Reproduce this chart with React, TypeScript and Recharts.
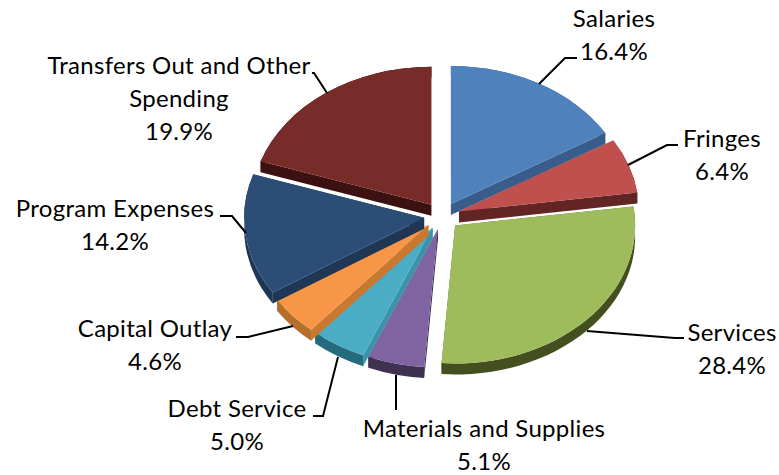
import React from "react";
import { PieChart, Pie } from "recharts";

const categories = ["Salaries", "Fringes", "Services", "Materials and Supplies", "Debt Service", "Capital Outlay", "Program Expenses", "Transfers Out and Other Spending"];
const shares = [16.4, 6.4, 28.4, 5.1, 5.0, 4.6, 14.2, 19.9];
const topColors = ["#4F81BD", "#C0504D", "#9EBC5C", "#8064A2", "#4BACC6", "#F79646", "#2C4D75", "#772C2A"];
const faceColors = ["#385D8A", "#632523", "#4F6228", "#3F3151", "#3A93AB", "#C9792F", "#1F3654", "#3B1211"];
const rimColors = ["#385D8A", "#632523", "#444F20", "#3F3151", "#256A7D", "#B66E2C", "#1F3654", "#3B1211"];

const WIDTH = 779;
const HEIGHT = 475;
const CX = 442;
const CY = 216;
const RX = 180;
const TILT = 0.767;
const DEPTH = 11;
const EXPLODE = 18;
const FONT_SIZE = 24;
const LETTER_SPACING = 0.3;
const LINE_HEIGHT = 33;

// text centre x, first line centre y, leader polyline
const labelLayout = [
  { x: 614, y: 17, leader: "539,84 565,58 577,58" },
  { x: 722, y: 137, leader: "628,165 667,145 678,145" },
  { x: 732, y: 331, leader: "587,331 675,338 684,338" },
  { x: 484, y: 427, leader: "396,375 396,410" },
  { x: 237, y: 407, leader: "338,357 323,416 313,416" },
  { x: 155, y: 327, leader: "293,326 248,337 236,337" },
  { x: 115, y: 207, leader: "246,233 232,216 220,216" },
  { x: 179, y: 64, leader: "327,93 314,73 312,73" },
];

const chartData = categories.map((name, i) => ({ name, value: shares[i], index: i }));

function wrap(name: string): string[] {
  const lines: string[] = [];
  let cur = "";
  for (const w of name.split(" ")) {
    if ((cur + " " + w).trim().length > 23) {
      lines.push(cur);
      cur = w;
    } else cur = (cur + " " + w).trim();
  }
  lines.push(cur);
  return lines;
}

const rad = (d: number) => (d * Math.PI) / 180;

function Slice3D(props: any) {
  const { cx, cy, outerRadius, startAngle, endAngle, index } = props;
  const a1 = 90 - startAngle;
  const a2 = 90 - endAngle;
  const rx = outerRadius;
  const ry = outerRadius * TILT;
  const mid = rad((a1 + a2) / 2);
  const ax = cx + EXPLODE * Math.sin(mid);
  const ay = cy - EXPLODE * TILT * Math.cos(mid);
  const x1 = ax + rx * Math.sin(rad(a1));
  const y1 = ay - ry * Math.cos(rad(a1));
  const x2 = ax + rx * Math.sin(rad(a2));
  const y2 = ay - ry * Math.cos(rad(a2));
  const large = a2 - a1 > 180 ? 1 : 0;
  const top = `M${ax},${ay} L${x1},${y1} A${rx},${ry} 0 ${large} 1 ${x2},${y2} Z`;
  const rim = `M${x1},${y1} A${rx},${ry} 0 ${large} 1 ${x2},${y2} L${x2},${y2 + DEPTH} A${rx},${ry} 0 ${large} 0 ${x1},${y1 + DEPTH} Z`;
  const face1 = `M${ax},${ay} L${x1},${y1} L${x1},${y1 + DEPTH} L${ax},${ay + DEPTH} Z`;
  const face2 = `M${ax},${ay} L${x2},${y2} L${x2},${y2 + DEPTH} L${ax},${ay + DEPTH} Z`;
  return (
    <g>
      <path d={face1} fill={faceColors[index]} />
      <path d={face2} fill={faceColors[index]} />
      <path d={rim} fill={rimColors[index]} />
      <path d={top} fill={topColors[index]} />
    </g>
  );
}

function SliceLabel(props: any) {
  const { index, name, value } = props;
  const layout = labelLayout[index];
  const lines = [...wrap(name), `${Number(value).toFixed(1)}%`];
  return (
    <g>
      <polyline points={layout.leader} fill="none" stroke="#000" strokeWidth={2} />
      <text textAnchor="middle" fontFamily="Lato" fontSize={FONT_SIZE} letterSpacing={LETTER_SPACING} fill="#000">
        {lines.map((line, i) => (
          <tspan key={i} x={layout.x} y={layout.y + i * LINE_HEIGHT} dominantBaseline="central">
            {line}
          </tspan>
        ))}
      </text>
    </g>
  );
}

export default function App() {
  return (
    <div style={{ position: "absolute", left: 0, top: 0, width: WIDTH, height: HEIGHT, background: "#fff" }}>
      <PieChart width={WIDTH} height={HEIGHT} margin={{ top: 0, right: 0, bottom: 0, left: 0 }}>
        <Pie
          data={chartData}
          dataKey="value"
          nameKey="name"
          cx={CX}
          cy={CY}
          innerRadius={0}
          outerRadius={RX}
          startAngle={90}
          endAngle={-270}
          stroke="none"
          shape={Slice3D}
          label={SliceLabel}
          labelLine={false}
          isAnimationActive={false}
        />
      </PieChart>
    </div>
  );
}
